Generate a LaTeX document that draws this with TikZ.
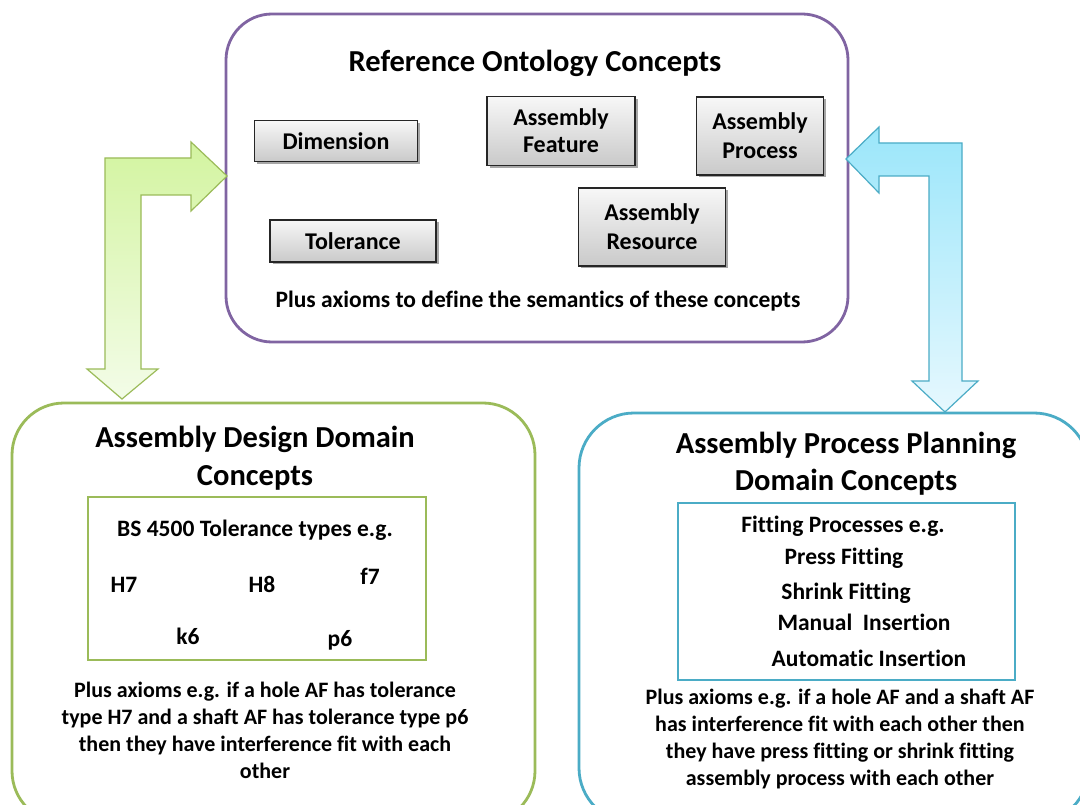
\documentclass[tikz,border=0pt]{standalone}
\usepackage{fontspec}
\setmainfont{Carlito}[Ligatures={NoCommon}]
\usetikzlibrary{shadows}
\definecolor{ontoline}{HTML}{8064A2}
\definecolor{desline}{HTML}{9BBB59}
\definecolor{planline}{HTML}{4BACC6}
\definecolor{greentop}{HTML}{D3F4A0}
\definecolor{greenbot}{HTML}{F3FCE8}
\definecolor{bluetop}{HTML}{9BE6FA}
\definecolor{bluebot}{HTML}{E6F8FE}
\tikzset{
  ttl/.style={font=\fontsize{30.5}{38}\selectfont\bfseries, text height=0.7em, text depth=0.2em, yshift=-7pt},
  body/.style={font=\fontsize{22}{27}\selectfont\bfseries, align=center},
  item/.style={font=\fontsize{23.5}{25}\selectfont\bfseries, text height=0.7em, text depth=0.2em, yshift=-5.5pt},
  conc/.style={draw=black!85, line width=1.1pt, top color=gray!6, bottom color=gray!42,
    font=\fontsize{24}{29}\selectfont\bfseries, align=center, inner sep=0pt,
    drop shadow={shadow xshift=2.5pt, shadow yshift=-2.5pt, opacity=0.35, fill=black}},
  bigbox/.style={rounded corners=#1, line width=2.8pt, inner sep=0pt},
  innerbox/.style={line width=1.2pt, inner sep=0pt},
  blockarrow/.style={line width=1.2pt, line join=miter}
}
\begin{document}
\begin{tikzpicture}[x=1pt,y=-1pt]
\useasboundingbox (0,0) rectangle (1080,805);
\clip (0,0) rectangle (1080,805);
\fill[white] (0,0) rectangle (1080,805);

% reference ontology container
\node[bigbox=46pt, draw=ontoline, minimum width=622pt, minimum height=328pt] (onto) at (537,178) {};
\node[ttl] (ontoT) at (535,62) {Reference Ontology Concepts};
\node[conc, minimum width=163pt, minimum height=41pt] (dim) at (336,141) {Dimension};
\node[conc, minimum width=166pt, minimum height=42pt] (tol) at (353,241) {Tolerance};
\node[conc, minimum width=148pt, minimum height=69pt] (feat) at (561,131) {Assembly\\[-2pt]Feature};
\node[conc, minimum width=127pt, minimum height=78pt] (proc) at (760,136) {Assembly\\[0pt]Process};
\node[conc, minimum width=147pt, minimum height=78pt] (res) at (652,227) {Assembly\\[0pt]Resource};
\node[body, font=\fontsize{23.5}{27}\selectfont\bfseries] (ontoAx) at (538,301) {Plus axioms to define the semantics of these concepts};

% assembly design domain container
\node[bigbox=52pt, draw=desline, minimum width=523pt, minimum height=420pt] (des) at (273.5,613) {};
\node[ttl] (desT1) at (255,438) {Assembly Design Domain};
\node[ttl] (desT2) at (255,476) {Concepts};
\node[innerbox, draw=desline, minimum width=338pt, minimum height=163pt] (tolbox) at (257,578.5) {};
\node[item] (tolhead) at (255,528) {BS 4500 Tolerance types e.g.};
\node[item] (h7) at (124,584) {H7};
\node[item] (h8) at (262,584) {H8};
\node[item] (f7) at (370,576) {f7};
\node[item] (k6) at (188,636) {k6};
\node[item] (p6) at (340,638) {p6};
\node[body] (desAx) at (265,730) {Plus axioms e.g. if a hole AF has tolerance\\type H7 and a shaft AF has tolerance type p6\\then they have interference fit with each\\other};

% assembly process planning domain container
\node[bigbox=55pt, draw=planline, minimum width=510pt, minimum height=410pt] (plan) at (834,618) {};
\node[ttl] (planT1) at (846,444) {Assembly Process Planning};
\node[ttl] (planT2) at (846,481) {Domain Concepts};
\node[innerbox, draw=planline, minimum width=337pt, minimum height=177pt] (fitbox) at (846.5,591.5) {};
\node[item] (fithead) at (843,524) {Fitting Processes e.g.};
\node[item] (press) at (844,556) {Press Fitting};
\node[item] (shrink) at (846,591) {Shrink Fitting};
\node[item] (manual) at (864,622) {Manual\ \ Insertion};
\node[item] (auto) at (869,658) {Automatic Insertion};
\node[body] (planAx) at (840,739) {Plus axioms e.g. if a hole AF and a shaft AF\\has interference fit with each other then\\they have press fitting or shrink fitting\\assembly process with each other};

% bent block arrow between design domain and ontology
\draw[blockarrow, draw=desline, top color=greentop, bottom color=greenbot]
  (105,158) -- (191,158) -- (191,142) -- (227,176) -- (191,211) -- (191,195)
  -- (141,195) -- (141,369) -- (158,369) -- (122,399) -- (87,369) -- (105,369) -- cycle;

% bent block arrow between ontology and process planning domain
\draw[blockarrow, draw=planline, top color=bluetop, bottom color=bluebot]
  (962,143) -- (879,143) -- (879,127) -- (846,159) -- (879,193) -- (879,176)
  -- (929,176) -- (929,381) -- (912,381) -- (945,412) -- (978,381) -- (962,381) -- cycle;
\end{tikzpicture}
\end{document}
